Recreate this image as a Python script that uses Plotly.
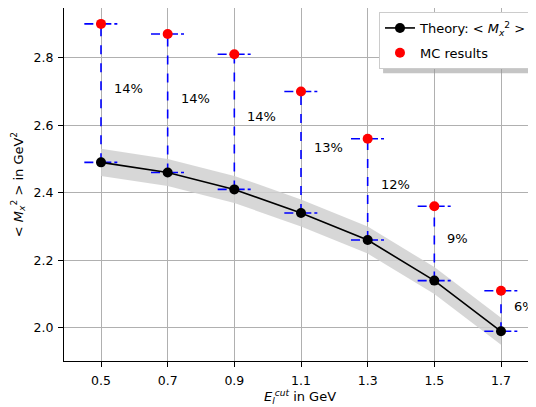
import plotly.graph_objects as go

# ---- data ----
e_cut = [0.5, 0.7, 0.9, 1.1, 1.3, 1.5, 1.7]
theory = [2.49, 2.46, 2.41, 2.34, 2.26, 2.14, 1.99]
theory_upper = [2.53, 2.50, 2.45, 2.38, 2.30, 2.18, 2.03]
theory_lower = [2.45, 2.42, 2.37, 2.30, 2.22, 2.10, 1.95]
mc_results = [2.90, 2.87, 2.81, 2.70, 2.56, 2.36, 2.11]
pct_labels = ["14%", "14%", "14%", "13%", "12%", "9%", "6%"]
x_err = 0.05
x_ticks = [0.5, 0.7, 0.9, 1.1, 1.3, 1.5, 1.7]
y_ticks = [2.0, 2.2, 2.4, 2.6, 2.8]

FONT = "DejaVu Sans"
fig = go.Figure()

# uncertainty band
fig.add_trace(go.Scatter(
    x=e_cut + e_cut[::-1], y=theory_upper + theory_lower[::-1],
    fill="toself", fillcolor="rgba(208,208,208,0.85)", line=dict(width=0),
    mode="lines", showlegend=False, hoverinfo="skip"))

# horizontal dash-dot bars
hx, hy = [], []
for x, t, m in zip(e_cut, theory, mc_results):
    hx += [x - x_err, x + x_err, None, x - x_err, x + x_err, None]
    hy += [t, t, None, m, m, None]
fig.add_trace(go.Scatter(x=hx, y=hy, mode="lines",
                         line=dict(color="blue", width=1.6, dash="dashdot"),
                         showlegend=False, hoverinfo="skip"))

# vertical dashed connectors
vx, vy = [], []
for x, t, m in zip(e_cut, theory, mc_results):
    vx += [x, x, None]
    vy += [t, m, None]
fig.add_trace(go.Scatter(x=vx, y=vy, mode="lines",
                         line=dict(color="blue", width=1.6, dash="dash"),
                         showlegend=False, hoverinfo="skip"))

# theory line
fig.add_trace(go.Scatter(x=e_cut, y=theory, mode="lines+markers",
                         line=dict(color="black", width=1.6),
                         marker=dict(color="black", size=10),
                         legendgroup="theory",
                         name="Theory: < <i>M</i><sub><i>x</i></sub><sup>2</sup> >"))

# MC results
fig.add_trace(go.Scatter(x=e_cut, y=mc_results, mode="markers",
                         marker=dict(color="red", size=10),
                         legendgroup="mc",
                         name="MC results"))

# percentage labels
for x, t, m, lab in zip(e_cut, theory, mc_results, pct_labels):
    fig.add_annotation(x=x + 0.033, y=(t + m) / 2, text=lab, showarrow=False,
                       xanchor="left", yanchor="middle", yshift=5,
                       font=dict(family=FONT, size=13, color="black"))

# legend shadow
fig.add_shape(type="rect", xref="paper", yref="paper",
              x0=0.676, x1=1.0, y0=0.815, y1=0.975,
              fillcolor="rgba(150,150,150,0.55)", line=dict(width=0), layer="above")

fig.update_layout(
    width=528, height=399,
    margin=dict(l=56, r=0, t=0, b=46, autoexpand=False),
    paper_bgcolor="white", plot_bgcolor="white",
    font=dict(family=FONT, size=12.5, color="black"),
    showlegend=True,
    legend=dict(x=0.9936, y=0.9887, xanchor="right", yanchor="top",
                bgcolor="white", bordercolor="#cccccc", borderwidth=1,
                font=dict(family=FONT, size=13), tracegroupgap=5,
                itemwidth=30),
    xaxis=dict(range=[0.389, 1.805], tickvals=x_ticks, automargin=False,
               ticktext=[f"{v:.1f}" for v in x_ticks], ticklabelstandoff=3,
               showgrid=True, gridcolor="#b0b0b0", gridwidth=1,
               showline=True, linecolor="black", linewidth=1, mirror=True,
               ticks="outside", ticklen=5, tickcolor="black", zeroline=False,
               title=dict(text="<i>E</i><sub><i>l</i></sub><sup><i>cut</i></sup> in GeV",
                          font=dict(family=FONT, size=13), standoff=1)),
    yaxis=dict(range=[1.902, 2.947], tickvals=y_ticks, automargin=False,
               ticktext=[f"{v:.1f}" for v in y_ticks], ticklabelstandoff=2,
               showgrid=True, gridcolor="#b0b0b0", gridwidth=1,
               showline=True, linecolor="black", linewidth=1, mirror=True,
               ticks="outside", ticklen=5, tickcolor="black", zeroline=False,
               title=dict(text="< <i>M</i><sub><i>x</i></sub><sup>2</sup> > in GeV<sup>2</sup>",
                          font=dict(family=FONT, size=13), standoff=7)),
)

fig.write_html("out.html")
